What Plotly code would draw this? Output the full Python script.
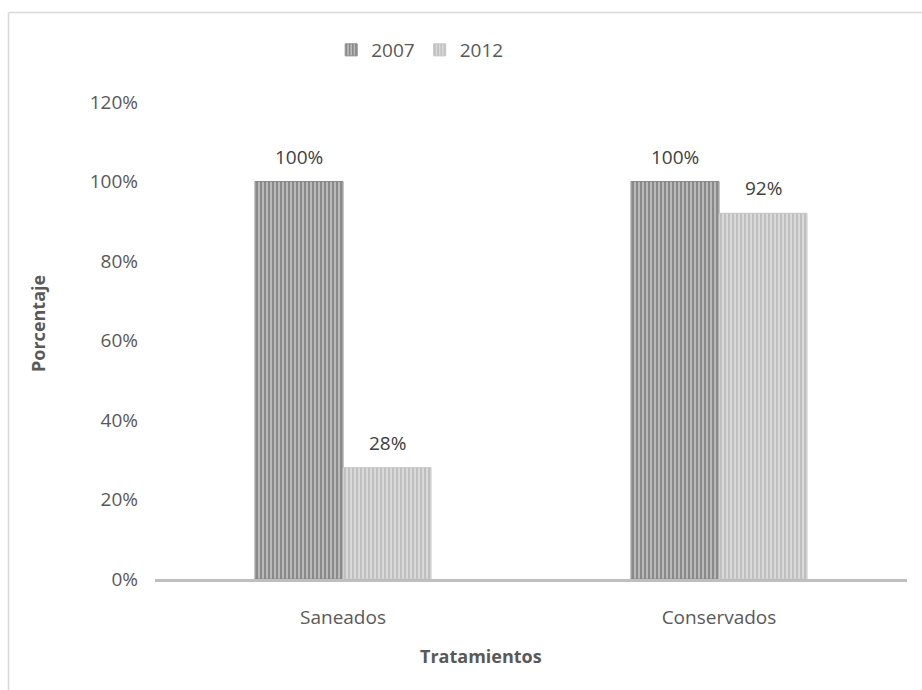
import plotly.graph_objects as go

categories = ["Saneados", "Conservados"]
years = ["2007", "2012"]
values_2007 = [1.00, 1.00]
values_2012 = [0.28, 0.92]
tick_vals = [0, 0.2, 0.4, 0.6, 0.8, 1.0, 1.2]

FONT = "'Open Sans', Lato, sans-serif"
FS = 19
W, H = 922, 690
L, R, T, B = 155, 15, 102, 111
pw, ph = W - L - R, H - T - B


def px_to_paper(x, y):
    return (x - L) / pw, (H - B - y) / ph


styles = {
    "2007": dict(fg="#585858", bg="#bababa", line="#8a8a8a"),
    "2012": dict(fg="#a3a3a3", bg="#dadada", line="#c4c4c4"),
}

fig = go.Figure()
for year, vals in zip(years, [values_2007, values_2012]):
    s = styles[year]
    fig.add_trace(go.Bar(
        name=year, x=categories, y=vals,
        marker=dict(
            color=s["bg"],
            line=dict(color=s["line"], width=1),
            pattern=dict(shape="|", fgcolor=s["fg"], bgcolor=s["bg"],
                         size=4, solidity=0.5, fillmode="overlay"),
        ),
        hoverinfo="skip",
    ))

# value labels above each bar
offsets = {"2007": -44, "2012": 44}
for year, vals in zip(years, [values_2007, values_2012]):
    for cat, v in zip(categories, vals):
        fig.add_annotation(
            x=cat, y=v, xref="x", yref="y", text=f"{v:.0%}",
            showarrow=False, xshift=offsets[year], yanchor="bottom", yshift=10,
            font=dict(family=FONT, size=FS, color="#404040"),
        )

# axis titles, centred on the whole chart frame
tx, ty = px_to_paper(481, 656)
fig.add_annotation(x=tx, y=ty, xref="paper", yref="paper", text="<b>Tratamientos</b>",
                   showarrow=False, xanchor="center", yanchor="middle",
                   font=dict(family=FONT, size=FS - 1, color="#595959"))
px_, py_ = px_to_paper(38, 324)
fig.add_annotation(x=px_, y=py_, xref="paper", yref="paper", text="<b>Porcentaje</b>",
                   showarrow=False, xanchor="center", yanchor="middle", textangle=-90,
                   font=dict(family=FONT, size=FS - 1, color="#595959"))

# outer frame (top and left edges visible)
x0, y0 = px_to_paper(8.5, 12.5)
x1, _ = px_to_paper(925, 12.5)
_, y1 = px_to_paper(8.5, 695)
fig.add_shape(type="line", xref="paper", yref="paper", x0=x0, y0=y0, x1=x1, y1=y0,
              line=dict(color="#d9d9d9", width=1.5))
fig.add_shape(type="line", xref="paper", yref="paper", x0=x0, y0=y0, x1=x0, y1=y1,
              line=dict(color="#d9d9d9", width=1.5))

fig.update_layout(
    width=W, height=H,
    margin=dict(l=L, r=R, t=T, b=B),
    paper_bgcolor="white", plot_bgcolor="white",
    barmode="group", bargap=0.532, bargroupgap=0,
    font=dict(family=FONT, size=FS, color="#595959"),
    showlegend=True,
    legend=dict(orientation="h", x=0.352, xanchor="center", y=px_to_paper(0, 50)[1],
                yanchor="middle", font=dict(size=FS, color="#595959"),
                itemwidth=30, traceorder="normal"),
    xaxis=dict(
        showgrid=False, showline=True, linecolor="#bfbfbf", linewidth=3,
        ticks="", tickfont=dict(size=FS, color="#595959"),
        ticklabelstandoff=19,
    ),
    yaxis=dict(
        range=[0, 1.2], tickvals=tick_vals, tickformat=".0%",
        showgrid=False, zeroline=False, showline=False, ticks="",
        tickfont=dict(size=FS, color="#595959"),
        ticklabelstandoff=16,
    ),
)

fig.write_html("out.html")
